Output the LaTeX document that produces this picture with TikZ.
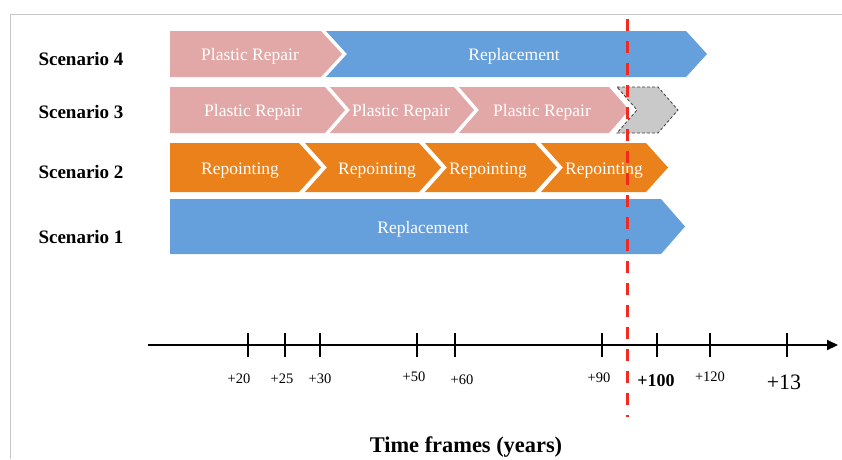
\documentclass[tikz,border=0pt]{standalone}
\usepackage{fontspec}
\setmainfont{Liberation Serif}
\usetikzlibrary{arrows.meta}
\definecolor{pinkc}{HTML}{E2A8A7}
\definecolor{bluec}{HTML}{659FDC}
\definecolor{orangec}{HTML}{EB811A}
\definecolor{grayc}{HTML}{C9C9C9}
\definecolor{framec}{HTML}{C8C8C8}
\definecolor{redc}{HTML}{F22A1F}
% #1 left, #2 corner, #3 top, #4 bottom, #5 depth, #6 notch factor, #7 style
\newcommand\chevshape[7]{%
  \path[#7] (#1,#3) -- (#2,#3) -- ({#2+#5},{(#3+#4)/2}) -- (#2,#4) -- (#1,#4)
    -- ({#1+#6*#5},{(#3+#4)/2}) -- cycle;}
\tikzset{
  pinkbar/.style={fill=pinkc},
  bluebar/.style={fill=bluec},
  orangebar/.style={fill=orangec},
  graybar/.style={fill=grayc, draw=black!75, densely dashed, line width=0.8pt},
  bartxt/.style={anchor=base, inner sep=0pt, text=white, font=\fontsize{17.5}{20}\selectfont},
  scentxt/.style={anchor=base, inner sep=0pt, font=\fontsize{19}{22}\selectfont\bfseries},
  ticklbl/.style={anchor=base, inner sep=0pt, font=\fontsize{14.5}{16}\selectfont},
  tickmark/.style={line width=1.2pt},
}
\begin{document}
\begin{tikzpicture}[x=1pt,y=-1pt]
\useasboundingbox (0,0) rectangle (842,459);
% frame
\draw[framec, line width=1pt] (10,459) -- (10,14) -- (842,14);
% Scenario labels
\node[scentxt] (sc4) at (81,65) {Scenario 4};
\node[scentxt] (sc3) at (81,118) {Scenario 3};
\node[scentxt] (sc2) at (81,178) {Scenario 2};
\node[scentxt] (sc1) at (81,243) {Scenario 1};
% Row 4
\chevshape{170}{321}{31}{77}{21}{0}{pinkbar}
\chevshape{326}{686}{31}{77}{21}{1}{bluebar}
\node[bartxt] (r4a) at (250,60) {Plastic Repair};
\node[bartxt] (r4b) at (514,60) {Replacement};
% Row 3
\chevshape{170}{325}{87}{133}{20}{0}{pinkbar}
\chevshape{330}{454}{87}{133}{20}{1}{pinkbar}
\chevshape{459}{609}{87}{133}{20}{1}{pinkbar}
\chevshape{617}{658}{87}{133}{20}{1}{graybar}
\node[bartxt] (r3a) at (253,116) {Plastic Repair};
\node[bartxt] (r3b) at (401,116) {Plastic Repair};
\node[bartxt] (r3c) at (542,116) {Plastic Repair};
% Row 2
\chevshape{170}{299}{143}{192}{22}{0}{orangebar}
\chevshape{305}{419}{143}{192}{22}{1}{orangebar}
\chevshape{425}{535}{143}{192}{22}{1}{orangebar}
\chevshape{541}{646}{143}{192}{22}{1}{orangebar}
\node[bartxt] (r2a) at (240,174) {Repointing};
\node[bartxt] (r2b) at (377,174) {Repointing};
\node[bartxt] (r2c) at (488,174) {Repointing};
\node[bartxt] (r2d) at (604,174) {Repointing};
% Row 1
\chevshape{170}{661}{199}{254}{24}{0}{bluebar}
\node[bartxt] (r1a) at (423,233) {Replacement};
% Axis
\coordinate (axL) at (148,345);
\coordinate (axR) at (838,345);
\draw[line width=2pt, -{Triangle[length=11pt,width=10pt]}] (axL) -- (axR);
\foreach \x/\n in {248/t20,285/t25,320/t30,417/t50,455/t60,602/t90,657/t100,710/t120,787/t130}{
  \coordinate (\n top) at (\x,333);
  \coordinate (\n bot) at (\x,357);
  \draw[tickmark] (\n top) -- (\n bot);
}
\node[ticklbl] (l20) at (239,383) {+20};
\node[ticklbl] (l25) at (282,383) {+25};
\node[ticklbl] (l30) at (320,383) {+30};
\node[ticklbl] (l50) at (414,381) {+50};
\node[ticklbl] (l60) at (462,384) {+60};
\node[ticklbl] (l90) at (599,382) {+90};
\node[anchor=base, inner sep=0pt, font=\fontsize{18}{20}\selectfont\bfseries] (l100) at (656,386) {+100};
\node[ticklbl] (l120) at (710,381) {+120};
\node[anchor=base, inner sep=0pt, font=\fontsize{22}{24}\selectfont] (l13) at (784,389) {+13};
% Title
\node[anchor=base, inner sep=0pt, font=\fontsize{22.4}{26}\selectfont\bfseries] (title) at (466,452) {Time frames (years)};
% Red dashed line
\coordinate (redT) at (627,19);
\coordinate (redB) at (627,417);
\draw[redc, line width=3pt, dash pattern=on 12pt off 10pt] (redT) -- (redB);
\end{tikzpicture}
\end{document}
